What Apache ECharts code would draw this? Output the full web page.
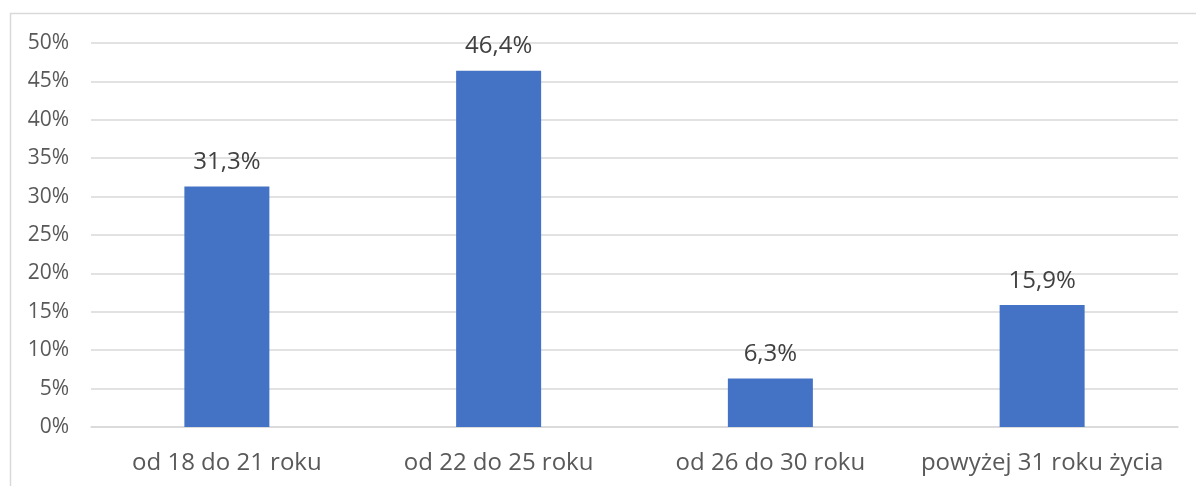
<!DOCTYPE html>
<html><head><meta charset="utf-8">
<script src="https://cdn.jsdelivr.net/npm/echarts@6/dist/echarts.min.js"></script>
<style>html,body{margin:0;padding:0;background:#fff}#c{width:1196px;height:486px}</style>
</head><body><div id="c"></div>
<script>
const categories = ["od 18 do 21 roku", "od 22 do 25 roku", "od 26 do 30 roku", "powyżej 31 roku życia"];
const values = [31.3, 46.4, 6.3, 15.9];
const yTicks = {min: 0, max: 50, interval: 5};

const chart = echarts.init(document.getElementById('c'), null, {renderer: 'canvas'});
const font = '"Open Sans", "Noto Sans", sans-serif';
chart.setOption({
  animation: false,
  graphic: [{type: 'polyline', shape: {points: [[10.5, 490], [10.5, 13.5], [1200, 13.5]]}, style: {stroke: '#d9d9d9', lineWidth: 1.5, fill: null}}],
  grid: {left: 91, right: 18, top: 43, bottom: 59, containLabel: false},
  xAxis: {type: 'category', data: categories,
    axisLine: {lineStyle: {color: '#d9d9d9', width: 1.5}}, axisTick: {show: false},
    axisLabel: {color: '#595959', fontSize: 24, fontFamily: font, margin: 24, interval: 0, hideOverlap: false}},
  yAxis: {type: 'value', min: yTicks.min, max: yTicks.max, interval: yTicks.interval,
    axisLine: {show: false}, axisTick: {show: false},
    splitLine: {lineStyle: {color: '#d9d9d9', width: 1.5}},
    axisLabel: {color: '#595959', fontSize: 21, fontFamily: font, margin: 22, formatter: '{value}%'}},
  series: [{type: 'bar', data: values, barWidth: 85, itemStyle: {color: '#4472C4'},
    label: {show: true, position: 'top', distance: 12, color: '#404040', fontSize: 24, fontFamily: font,
      formatter: p => p.value.toFixed(1).replace('.', ',') + '%'}}]
});
</script></body></html>
